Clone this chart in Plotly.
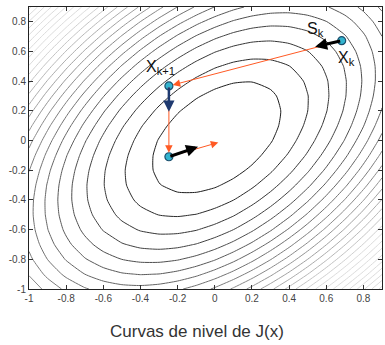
import numpy as np
import plotly.graph_objects as go

J_A = 1.035
J_B = 0.89
J_C = -0.44
J_X0 = 0.01
J_Y0 = 0.02
grid_x = np.round(np.arange(-1.0, 0.95, 0.1), 2)
grid_y = np.round(np.arange(-1.0, 0.95, 0.1), 2)
levels = [round(0.1 * i, 2) for i in range(1, 31)]
shade_low = 0.1    # level drawn darkest
shade_high = 1.7   # level drawn lightest

# Iterates
pts_x = [0.683, -0.247, -0.247]
pts_y = [0.673, 0.368, -0.109]

# Search directions (tail -> head)
sk_head = (0.54, 0.633)          # black arrow at x_k
gk1_head = (-0.247, 0.195)       # blue arrow at x_{k+1}
sk2_head = (-0.090, -0.042)      # black arrow at x_{k+2}
final_head = (0.019, -0.013)     # orange arrow towards optimum

tick_vals = [-1, -0.8, -0.6, -0.4, -0.2, 0, 0.2, 0.4, 0.6, 0.8]
tick_text = ["-1", "-0.8", "-0.6", "-0.4", "-0.2", "0", "0.2", "0.4", "0.6", "0.8"]

X, Y = np.meshgrid(grid_x, grid_y)
dx = X - J_X0
dy = Y - J_Y0
Z = J_A * dx**2 + J_B * dy**2 + 2 * J_C * dx * dy

FONT = "Liberation Sans, Arial, sans-serif"
ORANGE = "#ff5a24"
DARK, LIGHT = 30, 220

fig = go.Figure()
for lv in levels:
    f = min(max((lv - shade_low) / (shade_high - shade_low), 0.0), 1.0)
    g = int(round(DARK + f * (LIGHT - DARK)))
    col = f"rgb({g},{g},{g})"
    fig.add_trace(go.Contour(
        x=grid_x, y=grid_y, z=Z,
        contours=dict(start=lv, end=lv, size=1, coloring="none"),
        line=dict(width=1, color=col, smoothing=0.6),
        showscale=False, hoverinfo="skip",
    ))
fig.add_trace(go.Scatter(
    x=pts_x, y=pts_y, mode="markers",
    marker=dict(size=8, color="#33b4cf", line=dict(color="#1b4d6b", width=1.2)),
    hoverinfo="skip", showlegend=False,
))

def arrow(tail, head, color, width, size, standoff=0, head_style=2):
    fig.add_annotation(
        x=head[0], y=head[1], ax=tail[0], ay=tail[1],
        xref="x", yref="y", axref="x", ayref="y",
        text="", showarrow=True, arrowhead=head_style, arrowsize=size,
        arrowwidth=width, arrowcolor=color, standoff=standoff,
    )

# orange line-search path
arrow((pts_x[0], pts_y[0]), (pts_x[1], pts_y[1]), ORANGE, 1, 1.5, standoff=4)
arrow((pts_x[1], pts_y[1]), (pts_x[2], pts_y[2]), ORANGE, 1, 1.5, standoff=4)
arrow((pts_x[2], pts_y[2]), final_head, ORANGE, 1, 1.5)
# direction arrows
arrow((pts_x[0], pts_y[0]), sk_head, "#000000", 3, 0.8)
arrow((pts_x[1], pts_y[1]), gk1_head, "#1f3a70", 2.5, 0.9)
arrow((pts_x[2], pts_y[2]), sk2_head, "#000000", 3, 0.8)

labels = [
    (0.71, 0.55, "X<sub>k</sub>"),
    (0.54, 0.75, "S<sub>k</sub>"),
    (-0.29, 0.49, "X<sub>k+1</sub>"),
]
for lx, ly, txt in labels:
    fig.add_annotation(x=lx, y=ly, xref="x", yref="y", text=txt, showarrow=False,
                       font=dict(family=FONT, size=16, color="#111111"))

fig.add_annotation(x=0.476, y=-0.15, xref="paper", yref="paper",
                   text="Curvas de nivel de J(x)", showarrow=False,
                   yanchor="middle", font=dict(family=FONT, size=17, color="#333333"))

axis_common = dict(
    tickvals=tick_vals, ticktext=tick_text, ticks="inside", ticklen=4,
    tickcolor="#333333", showline=True, linecolor="#222222", linewidth=1,
    mirror="ticks", showgrid=False, zeroline=False,
    tickfont=dict(family=FONT, size=10, color="#444444"),
)
fig.update_xaxes(range=[-1, 0.9], **axis_common)
fig.update_yaxes(range=[-1, 0.9], **axis_common)

fig.update_layout(
    width=385, height=345,
    margin=dict(l=29, r=3, t=7, b=56),
    paper_bgcolor="white", plot_bgcolor="white",
    showlegend=False,
)
fig.write_html("out.html")
